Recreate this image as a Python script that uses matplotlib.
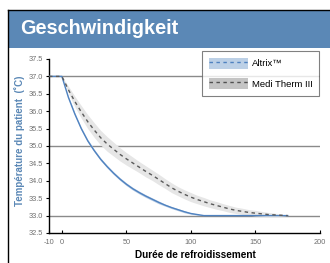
import matplotlib
matplotlib.use("Agg")
import matplotlib.pyplot as plt
from matplotlib.patches import Patch, Rectangle
from matplotlib.lines import Line2D
from matplotlib.legend_handler import HandlerTuple

plt.rcParams['font.family'] = ['Liberation Sans', 'DejaVu Sans']

title = "Geschwindigkeit"
x_label = "Durée de refroidissement"
y_label = "Température du patient  (˚C)"
series_names = ["Altrix™", "Medi Therm III"]

time = [-10, 0, 5, 10, 15, 20, 25, 30, 35, 40, 45, 50, 55, 60, 65, 70, 75, 80,
        85, 90, 95, 100, 105, 110, 115, 120, 125, 130, 135, 140, 145, 150,
        155, 160, 165, 170, 175]
altrix = [37.0, 37.0, 36.40, 35.92, 35.50, 35.15, 34.87, 34.62, 34.41, 34.22,
          34.05, 33.90, 33.77, 33.66, 33.56, 33.47, 33.38, 33.30, 33.23, 33.17,
          33.11, 33.06, 33.03, 33.0, 33.0, 33.0, 33.0, 33.0, 33.0, 33.0, 33.0,
          33.0, 33.0, 33.0, 33.0, 33.0, 33.0]
altrix_band = [0.0, 0.0, 0.03, 0.04, 0.04, 0.04, 0.04, 0.04, 0.04, 0.04, 0.04,
               0.04, 0.04, 0.04, 0.04, 0.04, 0.04, 0.03, 0.03, 0.03, 0.03, 0.02,
               0.02, 0.0, 0.0, 0.0, 0.0, 0.0, 0.0, 0.0, 0.0, 0.0, 0.0, 0.0, 0.0,
               0.0, 0.0]
medi = [37.0, 37.0, 36.62, 36.28, 35.98, 35.70, 35.46, 35.24, 35.06, 34.91,
        34.76, 34.63, 34.51, 34.39, 34.27, 34.16, 34.04, 33.92, 33.80, 33.70,
        33.61, 33.53, 33.46, 33.40, 33.34, 33.29, 33.24, 33.19, 33.15, 33.12,
        33.09, 33.07, 33.05, 33.03, 33.02, 33.01, 33.0]
medi_band = [0.0, 0.0, 0.10, 0.15, 0.18, 0.20, 0.21, 0.21, 0.21, 0.20, 0.19,
             0.18, 0.17, 0.16, 0.16, 0.15, 0.15, 0.14, 0.14, 0.13, 0.13, 0.13,
             0.12, 0.12, 0.11, 0.11, 0.10, 0.10, 0.09, 0.09, 0.08, 0.08, 0.07,
             0.06, 0.05, 0.03, 0.0]
x_ticks = [-10, 0, 50, 100, 150, 200]
y_ticks = [32.5, 33.0, 33.5, 34.0, 34.5, 35.0, 35.5, 36.0, 36.5, 37.0, 37.5]
grid_values = [37.0, 35.0, 33.0]

W, H = 330, 263
fig = plt.figure(figsize=(W / 100, H / 100), dpi=100)

band_blue = '#5b88b6'
# frame lines (left and top) and title band
fig.add_artist(Line2D([7.5 / W, 7.5 / W], [0, 1 - 9.5 / H], transform=fig.transFigure,
                      color='black', linewidth=1.0))
fig.add_artist(Line2D([7.5 / W, 1], [1 - 9.5 / H, 1 - 9.5 / H], transform=fig.transFigure,
                      color='black', linewidth=1.0))
fig.add_artist(Rectangle((8 / W, 1 - 48 / H), (W - 8) / W, 38 / H, transform=fig.transFigure,
                         facecolor=band_blue, edgecolor='none', zorder=1))
fig.text(20 / W, 1 - 29 / H, title, color='white', fontsize=14.3, fontweight='bold',
         va='center', ha='left')

ax = fig.add_axes([49 / W, 1 - 233 / H, (320 - 49) / W, (233 - 59) / H])
ax.set_xlim(-10, 200)
ax.set_ylim(32.5, 37.5)
ax.set_facecolor('none')

for g in grid_values:
    ax.axhline(g, color='#8a8a8a', linewidth=1.0, zorder=1)

lo_m = [m - b for m, b in zip(medi, medi_band)]
hi_m = [m + b for m, b in zip(medi, medi_band)]
ax.fill_between(time, lo_m, hi_m, color='#e6e6e6', linewidth=0, zorder=2)
lo_a = [m - b for m, b in zip(altrix, altrix_band)]
hi_a = [m + b for m, b in zip(altrix, altrix_band)]
ax.fill_between(time, lo_a, hi_a, color='#b8cce4', linewidth=0, zorder=2)

ax.plot(time, altrix, color='#4f82c0', linewidth=1.0, zorder=3)
ax.plot(time, medi, color='#5a5a5a', linewidth=1.0, dashes=(2.5, 2.5), zorder=4)

for s in ['top', 'right']:
    ax.spines[s].set_visible(False)
for s in ['left', 'bottom']:
    ax.spines[s].set_color('black')
    ax.spines[s].set_linewidth(1.0)

ax.set_xticks(x_ticks)
ax.set_xticklabels([str(v) for v in x_ticks])
ax.set_yticks(y_ticks)
ax.set_yticklabels(['%.1f' % v for v in y_ticks])
ax.tick_params(axis='x', direction='in', length=2.5, width=0.8, labelsize=5.3,
               labelcolor='#707070', pad=4)
ax.tick_params(axis='y', direction='out', length=2.5, width=0.8, labelsize=5.3,
               labelcolor='#707070', pad=2)

fig.text(20 / W, 1 - 141 / H, y_label, rotation=90, color=band_blue, fontsize=7.0,
         fontweight='bold', ha='center', va='center')
fig.text(195 / W, 1 - 255 / H, x_label, color='black', fontsize=7.2,
         fontweight='bold', ha='center', va='center')

h1 = (Patch(facecolor='#bcd0e6', edgecolor='none'),
      Line2D([], [], color='#4f82c0', linewidth=1.0, dashes=(2.5, 2.5)))
h2 = (Patch(facecolor='#c4c4c4', edgecolor='none'),
      Line2D([], [], color='#505050', linewidth=1.0, dashes=(2.5, 2.5)))
leg = ax.legend([h1, h2], series_names, handler_map={tuple: HandlerTuple(ndivide=1, pad=0)},
                loc='upper left', bbox_to_anchor=((202 - 49) / (320 - 49), 1 + 8 / 174),
                fontsize=6.8, frameon=True, fancybox=False, edgecolor='#606060',
                handlelength=4.2, handleheight=1.5, handletextpad=0.35, borderpad=0.7,
                labelspacing=0.9, borderaxespad=0)
leg.get_frame().set_linewidth(0.8)
leg.set_zorder(10)

fig.savefig('out.png', dpi=100)
